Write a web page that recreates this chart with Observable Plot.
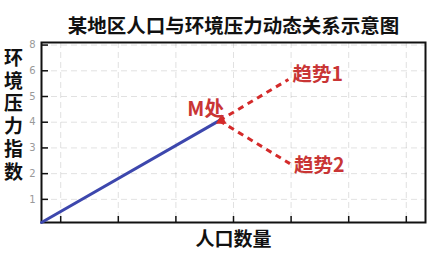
<!DOCTYPE html>
<html><head><meta charset="utf-8">
<script src="https://cdn.jsdelivr.net/npm/d3@7"></script>
<script src="https://cdn.jsdelivr.net/npm/@observablehq/plot@0.6"></script>
<style>
body{margin:0;background:#fff;font-family:"Noto Sans CJK SC","Noto Sans",sans-serif;}
#chart svg{display:block;}
</style></head>
<body><div id="chart"></div>
<script>
const titleText = "某地区人口与环境压力动态关系示意图";
const xLabel = "人口数量";
const yLabel = "环境压力指数";
const xTickValues = [0.5, 2, 3.5, 5, 6.5, 8, 9.5];
const yTickValues = [1, 2, 3, 4, 5, 6, 7];
const yTickLabels = ["1", "2", "3", "4", "5", "6", "8"];
const baseX = [0, 4.63];
const baseY = [0.1, 4.06];
const pointName = ["M处"];
const trendNames = ["趋势1", "趋势2"];
const trendEndX = [6.43, 6.47];
const trendEndY = [5.66, 2.39];

const base = baseX.map((x, i) => ({x, y: baseY[i]}));
const mX = baseX[1], mY = baseY[1];
const trends = trendNames.map((name, i) => ({name, x1: mX, y1: mY, x2: trendEndX[i], y2: trendEndY[i]}));
const cjk = '"Noto Sans CJK SC", sans-serif';
const red = "#d42a2a", labelRed = "#c93535";

const chart = Plot.plot({
  width: 430, height: 253,
  marginLeft: 41, marginRight: 5, marginTop: 42, marginBottom: 31,
  style: {fontFamily: cjk, background: "#fff"},
  x: {domain: [0, 10]},
  y: {domain: [0.1, 7.1]},
  marks: [
    Plot.gridX(xTickValues, {stroke: "#aaa", strokeOpacity: 0.35, strokeDasharray: "6,4"}),
    Plot.gridY(yTickValues, {stroke: "#aaa", strokeOpacity: 0.35, strokeDasharray: "6,4"}),
    Plot.axisX(xTickValues, {tickSize: 6, dy: -6, tickFormat: () => "", label: null, stroke: "#111", strokeWidth: 1.5}),
    Plot.axisY(yTickValues, {tickSize: 7, dx: 7, tickFormat: () => "", label: null, stroke: "#111", strokeWidth: 1.5}),
    Plot.axisY(yTickValues, {tickSize: 0, tickPadding: 6, tickFormat: d => yTickLabels[yTickValues.indexOf(d)], label: null, fill: "#999", fontSize: 10, fontFamily: "DejaVu Sans"}),
    Plot.frame({stroke: "#111", strokeWidth: 2}),
    Plot.line(base, {x: "x", y: "y", stroke: "#3d47ad", strokeWidth: 3}),
    Plot.link(trends, {x1: "x1", y1: "y1", x2: "x2", y2: "y2", stroke: red, strokeWidth: 3, strokeDasharray: "6,5"}),
    Plot.dot([0], {x: () => mX, y: () => mY, symbol: "triangle", r: 4, fill: red, stroke: null, rotate: 240, dx: 2}),
    Plot.text(trends.slice(0, 1), {x: "x2", y: "y2", text: "name", textAnchor: "start", dx: 4, dy: -5, fill: labelRed, fontSize: 19.5, fontWeight: 700}),
    Plot.text(trends.slice(1, 2), {x: "x2", y: "y2", text: "name", textAnchor: "start", dx: 4, dy: 2, fill: labelRed, fontSize: 19.5, fontWeight: 700}),
    Plot.text(pointName, {x: () => mX, y: () => mY, text: d => d, textAnchor: "end", dx: 5, dy: -11, fill: labelRed, fontSize: 20, fontWeight: 700}),
    Plot.text([titleText], {frameAnchor: "top", text: d => d, dy: -23, fontSize: 19.5, fontWeight: 700, fill: "#111"}),
    Plot.text([xLabel], {frameAnchor: "bottom", text: d => d, dy: 23, fontSize: 19, fontWeight: 700, fill: "#111"}),
    Plot.text([yLabel.split("").join("\n")], {frameAnchor: "left", textAnchor: "middle", text: d => d, dx: -28, dy: -18, fontSize: 19, fontWeight: 700, lineHeight: 1.2, fill: "#111"})
  ]
});
document.getElementById("chart").appendChild(chart);
</script></body></html>
